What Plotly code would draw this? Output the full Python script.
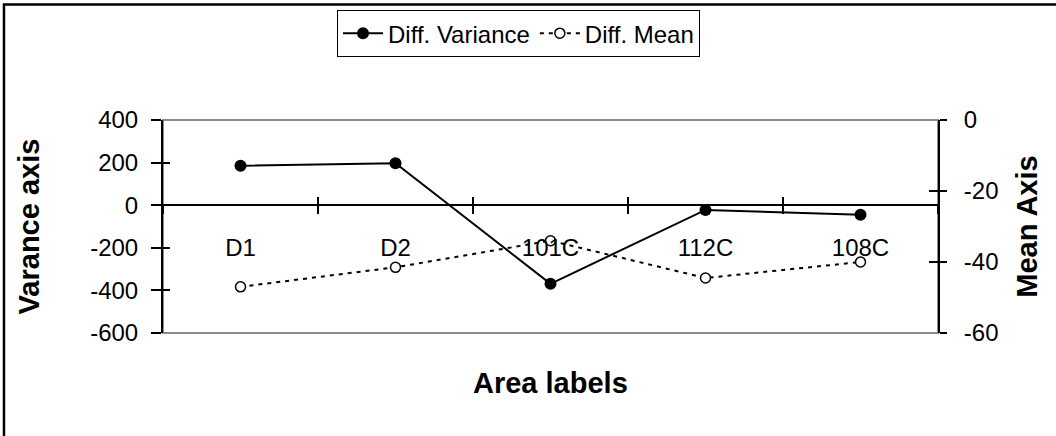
import plotly.graph_objects as go

categories = ["D1", "D2", "101C", "112C", "108C"]
diff_variance = [185, 197, -369, -22, -45]
diff_mean = [-47, -41.5, -34, -44.5, -40]

var_ticks = [400, 200, 0, -200, -400, -600]
var_tick_text = ["400", "200", "0", "-200", "-400", "-600"]
mean_ticks = [0, -20, -40, -60]
mean_tick_text = ["0", "-20", "-40", "-60"]

FONT = "Liberation Sans, Arial, sans-serif"

fig = go.Figure()

fig.add_trace(go.Scatter(
    x=categories, y=diff_variance, name="Diff. Variance",
    mode="lines+markers", xaxis="x", yaxis="y",
    line=dict(color="black", width=2),
    marker=dict(symbol="circle", size=12, color="black"),
))
fig.add_trace(go.Scatter(
    x=categories, y=diff_mean, name="Diff. Mean",
    mode="lines+markers", xaxis="x", yaxis="y2",
    line=dict(color="black", width=2, dash="4px,5px"),
    marker=dict(symbol="circle", size=10, color="white",
                line=dict(color="black", width=1.5)),
))
# invisible helpers so the overlay tick axes are drawn
fig.add_trace(go.Scatter(x=categories, y=diff_variance, xaxis="x2", yaxis="y3",
                         mode="lines", line=dict(width=0), opacity=0,
                         showlegend=False, hoverinfo="skip"))
fig.add_trace(go.Scatter(x=categories, y=diff_mean, xaxis="x", yaxis="y4",
                         mode="lines", line=dict(width=0), opacity=0,
                         showlegend=False, hoverinfo="skip"))

zero_pos = (0 - (-600)) / (400 - (-600))

common_x = dict(type="category", categoryorder="array", categoryarray=categories,
                range=[-0.5, 4.5], tickson="boundaries", showgrid=False,
                zeroline=False, anchor="free", position=zero_pos)

fig.update_layout(
    width=1056, height=436,
    margin=dict(l=163, r=118, t=119, b=103),
    paper_bgcolor="white", plot_bgcolor="white",
    font=dict(family=FONT, size=24, color="black"),
    showlegend=True,
    legend=dict(orientation="h", x=0.4587, xanchor="center", y=1.509, yanchor="top",
                bordercolor="black", borderwidth=1, bgcolor="white",
                font=dict(family=FONT, size=24, color="black"),
                itemwidth=40),
    xaxis=dict(**common_x, showline=True, linecolor="black", linewidth=2,
               ticks="outside", ticklen=8, tickwidth=1.5, tickcolor="black",
               ticklabelstandoff=21,
               tickfont=dict(family=FONT, size=24, color="black")),
    xaxis2=dict(**common_x, overlaying="x", showline=False,
                ticks="inside", ticklen=8, tickwidth=1.5, tickcolor="black",
                showticklabels=False),
    yaxis=dict(range=[-600, 400], tickvals=var_ticks, ticktext=var_tick_text,
               showgrid=False, zeroline=False,
               showline=True, linecolor="black", linewidth=2,
               ticks="outside", ticklen=10, tickwidth=1.5, tickcolor="black",
               ticklabelstandoff=8,
               tickfont=dict(family=FONT, size=24, color="black"),
               title=dict(text="<b>Varance axis</b>", standoff=42,
                          font=dict(family=FONT, size=29, color="black"))),
    yaxis3=dict(range=[-600, 400], tickvals=var_ticks, overlaying="y", side="left",
                showgrid=False, zeroline=False, showline=False,
                ticks="inside", ticklen=7, tickwidth=1.5, tickcolor="black",
                showticklabels=False),
    yaxis2=dict(range=[-60, 0], tickvals=mean_ticks, ticktext=mean_tick_text,
                overlaying="y", side="right",
                anchor="x", showgrid=False, zeroline=False,
                showline=True, linecolor="black", linewidth=2,
                ticks="outside", ticklen=7, tickwidth=1.5, tickcolor="black",
                ticklabelstandoff=12,
                tickfont=dict(family=FONT, size=24, color="black"),
                title=dict(text="<b>Mean Axis</b>", standoff=19,
                           font=dict(family=FONT, size=29, color="black"))),
    yaxis4=dict(range=[-60, 0], tickvals=mean_ticks, overlaying="y", side="right",
                anchor="x", showgrid=False, zeroline=False, showline=False,
                ticks="inside", ticklen=9, tickwidth=1.5, tickcolor="black",
                showticklabels=False),
    annotations=[
        dict(text="<b>Area labels</b>", xref="paper", yref="paper",
             x=0.5, y=-0.2336, xanchor="center", yanchor="middle", showarrow=False,
             font=dict(family=FONT, size=29, color="black")),
    ],
    shapes=[
        # plot area border (grey)
        dict(type="rect", xref="paper", yref="paper", x0=0, x1=1, y0=0, y1=1,
             line=dict(color="#8c8c8c", width=2), layer="below"),
        # chart outer frame
        dict(type="rect", xref="paper", yref="paper", x0=-0.2052, x1=1.3,
             y0=-0.6, y1=1.5421, line=dict(color="black", width=2.5), layer="below"),
    ],
)

fig.write_html("out.html")
